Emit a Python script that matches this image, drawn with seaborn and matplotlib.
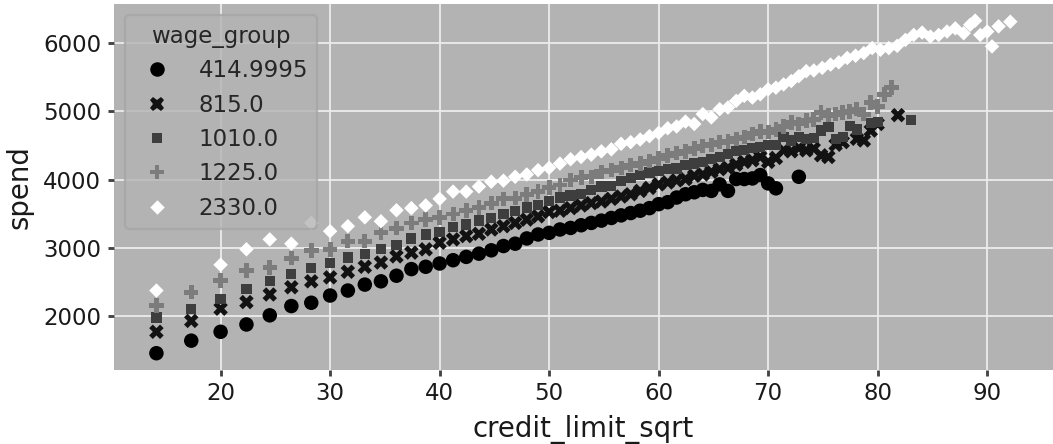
import pandas as pd
import matplotlib
matplotlib.use("Agg")
import matplotlib.pyplot as plt
import seaborn as sns

# Data
wage_groups = ["414.9995", "815.0", "1010.0", "1225.0", "2330.0"]
group_colors = ["#000000", "#121212", "#3e3e3e", "#7c7c7c", "#ffffff"]

x_base = [14.14, 17.32, 20.0, 22.36, 24.49, 26.46, 28.28, 30.0, 31.62, 33.17,
          34.64, 36.06, 37.42, 38.73, 40.0, 41.23, 42.43, 43.59, 44.72, 45.83,
          46.9, 47.96, 48.99, 50.0, 50.99, 51.96, 52.92, 53.85, 54.77, 55.68,
          56.57, 57.45, 58.31, 59.16, 60.0, 60.83, 61.64]

# 414.9995
spend_g1 = [1459, 1643, 1773, 1880, 2014, 2150, 2198, 2304, 2377, 2464,
            2512, 2594, 2691, 2725, 2773, 2821, 2870, 2917, 2966, 3029,
            3063, 3140, 3198, 3222, 3271, 3294, 3333, 3367, 3401, 3440,
            3478, 3512, 3546, 3584, 3642, 3671, 3739]
x_g1_ext = [62.45, 63.25, 64.03, 64.81, 65.57, 66.33, 67.08, 67.82, 68.56,
            69.28, 70.0, 70.71, 72.8]
spend_g1_ext = [3787, 3816, 3851, 3836, 3932, 3836, 4010, 4010, 4019,
                4068, 3946, 3874, 4043]

# 815.0
spend_g2 = [1773, 1932, 2111, 2208, 2319, 2425, 2512, 2570, 2652, 2725,
            2787, 2877, 2932, 2981, 3077, 3126, 3174, 3208, 3271, 3319,
            3367, 3416, 3464, 3527, 3546, 3584, 3623, 3657, 3681, 3720,
            3754, 3787, 3836, 3880, 3932, 3960, 3990]
x_g2_ext = [62.45, 63.25, 64.03, 64.81, 65.57, 66.33, 67.08, 67.82, 68.56,
            69.28, 70.0, 70.71, 71.41, 72.11, 72.8, 73.48, 74.16, 74.83,
            75.5, 76.16, 76.81, 78.1, 78.74, 79.37, 80.0, 81.85]
spend_g2_ext = [4010, 4058, 4077, 4116, 4155, 4174, 4222, 4261, 4285,
                4333, 4261, 4319, 4430, 4416, 4464, 4430, 4454, 4358,
                4333, 4512, 4551, 4599, 4575, 4720, 4816, 4946]

# 1010.0
spend_g3 = [1981, 2111, 2256, 2401, 2512, 2618, 2705, 2783, 2860, 2908,
            2981, 3043, 3140, 3198, 3237, 3304, 3343, 3401, 3440, 3498,
            3546, 3594, 3628, 3691, 3739, 3768, 3787, 3851, 3899, 3913,
            3981, 4029, 4068, 4106, 4126, 4155, 4164]
x_g3_ext = [62.45, 63.25, 64.03, 64.81, 65.57, 66.33, 67.08, 67.82, 68.56,
            69.28, 70.0, 70.71, 71.41, 72.11, 72.8, 73.48, 74.16, 74.83,
            75.5, 76.16, 76.81, 77.46, 78.1, 79.37, 80.0, 83.07]
spend_g3_ext = [4213, 4236, 4261, 4300, 4333, 4381, 4416, 4430, 4464,
                4478, 4512, 4512, 4623, 4575, 4623, 4599, 4609, 4720,
                4768, 4599, 4623, 4783, 4735, 4831, 4841, 4880]

# 1225.0
spend_g4 = [2159, 2353, 2522, 2667, 2715, 2850, 2966, 2981, 3101, 3101,
            3222, 3290, 3367, 3416, 3449, 3498, 3546, 3594, 3657, 3720,
            3729, 3787, 3830, 3884, 3923, 3995, 4029, 4043, 4116, 4140,
            4174, 4213, 4236, 4271, 4309, 4352, 4390]
x_g4_ext = [62.45, 63.25, 64.03, 64.81, 65.57, 66.33, 67.08, 67.82, 68.56,
            69.28, 70.0, 70.71, 71.41, 72.11, 72.8, 73.48, 74.16, 74.83,
            75.5, 76.16, 76.81, 77.46, 78.1, 78.74, 79.37, 80.0, 80.62, 81.24]
spend_g4_ext = [4416, 4454, 4493, 4512, 4551, 4561, 4599, 4623, 4671,
                4706, 4696, 4735, 4783, 4841, 4816, 4865, 4880, 4986,
                4946, 4960, 4986, 4996, 5033, 4961, 5130, 5072, 5251, 5348]

# 2330.0 (no point at 17.32)
x_g5 = [14.14, 20.0, 22.36, 24.49, 26.46, 28.28, 30.0, 31.62, 33.17,
        34.64, 36.06, 37.42, 38.73, 40.0, 41.23, 42.43, 43.59, 44.72, 45.83,
        46.9, 47.96, 48.99, 50.0, 50.99, 51.96, 52.92, 53.85, 54.77, 55.68,
        56.57, 57.45, 58.31, 59.16, 60.0, 60.83, 61.64, 62.45, 63.25, 64.03,
        64.81, 65.57, 66.33, 67.08, 67.82, 68.56, 69.28, 70.0, 70.71, 71.41,
        72.11, 72.8, 73.48, 74.17, 74.94, 75.7, 76.45, 77.22, 77.98, 78.73,
        79.5, 80.25, 81.01, 81.78, 82.53, 83.29, 84.06, 84.81, 85.57, 86.33,
        87.09, 87.85, 88.45, 88.9, 89.37, 90.0, 90.44, 91.04, 92.11]
spend_g5 = [2377, 2754, 2981, 3126, 3063, 3367, 3246, 3319, 3449,
            3391, 3553, 3584, 3623, 3720, 3826, 3826, 3899, 3971, 3986,
            4043, 4077, 4140, 4174, 4236, 4300, 4333, 4367, 4416, 4445,
            4526, 4551, 4589, 4638, 4686, 4754, 4780, 4851, 4816, 4961,
            4913, 5033, 5058, 5155, 5228, 5203, 5251, 5324, 5348, 5396,
            5445, 5517, 5590, 5600, 5638, 5686, 5720, 5783, 5816, 5855,
            5928, 5903, 5928, 5961, 6048, 6120, 6155, 6097, 6120, 6170,
            6217, 6145, 6270, 6330, 6120, 6170, 5952, 6246, 6314]

frames = [
    pd.DataFrame({"credit_limit_sqrt": x_base + x_g1_ext, "spend": spend_g1 + spend_g1_ext, "wage_group": wage_groups[0]}),
    pd.DataFrame({"credit_limit_sqrt": x_base + x_g2_ext, "spend": spend_g2 + spend_g2_ext, "wage_group": wage_groups[1]}),
    pd.DataFrame({"credit_limit_sqrt": x_base + x_g3_ext, "spend": spend_g3 + spend_g3_ext, "wage_group": wage_groups[2]}),
    pd.DataFrame({"credit_limit_sqrt": x_base + x_g4_ext, "spend": spend_g4 + spend_g4_ext, "wage_group": wage_groups[3]}),
    pd.DataFrame({"credit_limit_sqrt": x_g5, "spend": spend_g5, "wage_group": wage_groups[4]}),
]
df = pd.concat(frames, ignore_index=True)

sns.set_theme(style="darkgrid", rc={
    "axes.facecolor": "#b3b3b3",
    "grid.color": "#ebebeb",
    "grid.linewidth": 0.8,
    "xtick.bottom": True,
    "ytick.left": True,
    "xtick.major.size": 2.5,
    "ytick.major.size": 2.5,
    "xtick.color": "#444444",
    "ytick.color": "#444444",
    "xtick.labelcolor": "#1a1a1a",
    "ytick.labelcolor": "#1a1a1a",
})

fig, ax = plt.subplots(figsize=(1053 / 165, 444 / 165), dpi=165)
fig.subplots_adjust(left=0.108, right=1.0, bottom=0.167, top=0.991)

sns.scatterplot(data=df, x="credit_limit_sqrt", y="spend",
                hue="wage_group", style="wage_group",
                hue_order=wage_groups, style_order=wage_groups,
                palette=group_colors, linewidth=0, s=40, ax=ax)

for s in ax.spines.values():
    s.set_visible(False)

ax.tick_params(labelsize=10, pad=3)
ax.set_xlabel("credit_limit_sqrt", fontsize=12, color="#1a1a1a")
ax.set_ylabel("spend", fontsize=12, color="#1a1a1a")
ax.set_yticks([2000, 3000, 4000, 5000, 6000])

leg = ax.legend(title="wage_group", loc="upper left", fontsize=10,
                title_fontsize=10, frameon=True)
leg.get_frame().set_facecolor("#b3b3b3")
leg.get_frame().set_edgecolor("#a6a6a6")

fig.savefig("out.png", dpi=165)
